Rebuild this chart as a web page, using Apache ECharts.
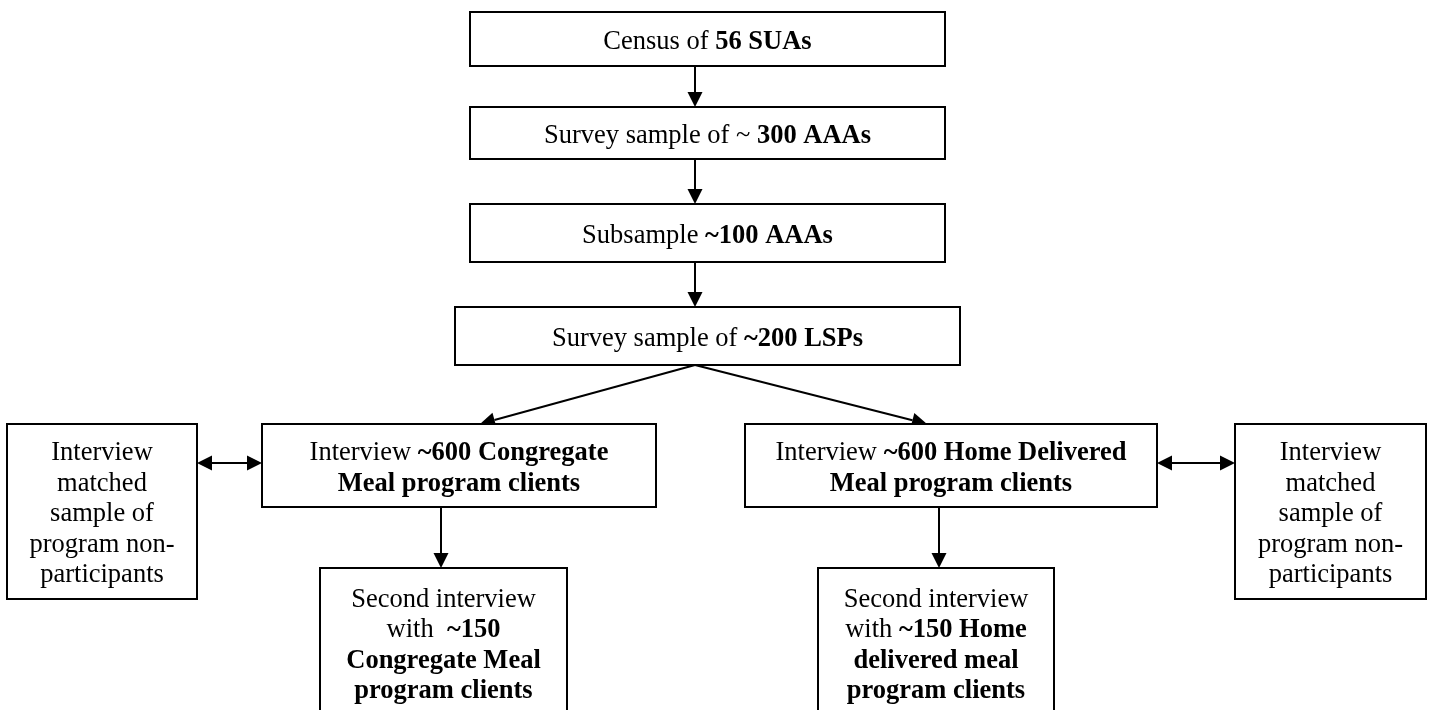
<!DOCTYPE html>
<html>
<head>
<meta charset="utf-8">
<script src="https://cdn.jsdelivr.net/npm/echarts@6/dist/echarts.min.js"></script>
<style>
  html, body { margin: 0; padding: 0; background: #fff; }
  #chart { width: 1429px; height: 710px; }
</style>
</head>
<body>
<div id="chart"></div>
<script>
// box texts, one entry per line, {b|...} marks bold runs
const nodeText = [
    ['Census of {b|56 SUAs}'],
    ['Survey sample of ~ {b|300 AAAs}'],
    ['Subsample {b|~100 AAAs}'],
    ['Survey sample of {b|~200 LSPs}'],
    ['Interview {b|~600 Congregate}', '{b|Meal program clients}'],
    ['Interview {b|~600 Home Delivered}', '{b|Meal program clients}'],
    ['Interview', 'matched', 'sample of', 'program non-', 'participants'],
    ['Interview', 'matched', 'sample of', 'program non-', 'participants'],
    ['Second interview', 'with  {b|~150}', '{b|Congregate Meal}', '{b|program clients}'],
    ['Second interview', 'with {b|~150 Home}', '{b|delivered meal}', '{b|program clients}'],
];

// layout of the boxes: [left, top, right, bottom] on the page axes
const nodeBox = [
    [470, 12, 945, 66],
    [470, 107, 945, 159],
    [470, 204, 945, 262],
    [455, 307, 960, 365],
    [262, 424, 656, 507],
    [745, 424, 1157, 507],
    [7, 424, 197, 599],
    [1235, 424, 1426, 599],
    [320, 568, 567, 717],
    [818, 568, 1054, 717],
];

// arrows: [x1, y1, x2, y2, heads at both ends]
const arrows = [
    [695, 66, 695, 107, 0],
    [695, 159, 695, 204, 0],
    [695, 262, 695, 307, 0],
    [695, 365, 480, 424, 0],
    [695, 365, 927, 424, 0],
    [441, 507, 441, 568, 0],
    [939, 507, 939, 568, 0],
    [197, 463, 262, 463, 1],
    [1157, 463, 1235, 463, 1],
];

const FONT = '"Liberation Serif", "Times New Roman", serif';
const FONT_SIZE = 26.5;
const LINE_HEIGHT = 30.5;
const TEXT_NUDGE = 3; // serif glyphs sit a little low in the reference
const HEAD_LEN = 15;
const HEAD_HALF = 7.5;

function renderBox(params, api) {
    const i = api.value(4);
    const p0 = api.coord([api.value(0), api.value(1)]);
    const p1 = api.coord([api.value(2), api.value(3)]);

    return {
        type: 'group',
        children: [
            {
                type: 'rect',
                shape: { x: p0[0], y: p0[1], width: p1[0] - p0[0], height: p1[1] - p0[1] },
                style: { fill: '#fff', stroke: '#000', lineWidth: 2 },
            },
            {
                type: 'text',
                style: {
                    text: nodeText[i].join('\n'),
                    x: (p0[0] + p1[0]) / 2,
                    y: (p0[1] + p1[1]) / 2 + TEXT_NUDGE,
                    align: 'center',
                    verticalAlign: 'middle',
                    fontSize: FONT_SIZE,
                    fontFamily: FONT,
                    lineHeight: LINE_HEIGHT,
                    fill: '#000',
                    rich: {
                        b: {
                            fontSize: FONT_SIZE,
                            fontFamily: FONT,
                            fontWeight: 'bold',
                            lineHeight: LINE_HEIGHT,
                            fill: '#000',
                        },
                    },
                },
            },
        ],
    };
}

function arrowHead(tip, ux, uy) {
    const bx = tip[0] - ux * HEAD_LEN;
    const by = tip[1] - uy * HEAD_LEN;
    return {
        type: 'polygon',
        shape: {
            points: [
                tip,
                [bx - uy * HEAD_HALF, by + ux * HEAD_HALF],
                [bx + uy * HEAD_HALF, by - ux * HEAD_HALF],
            ],
        },
        style: { fill: '#000' },
    };
}

function renderArrow(params, api) {
    const a = api.coord([api.value(0), api.value(1)]);
    const b = api.coord([api.value(2), api.value(3)]);
    const both = api.value(4) === 1;
    const len = Math.hypot(b[0] - a[0], b[1] - a[1]);
    const ux = (b[0] - a[0]) / len;
    const uy = (b[1] - a[1]) / len;

    const start = both ? [a[0] + ux * HEAD_LEN, a[1] + uy * HEAD_LEN] : a;
    const end = [b[0] - ux * HEAD_LEN, b[1] - uy * HEAD_LEN];

    const children = [
        {
            type: 'line',
            shape: { x1: start[0], y1: start[1], x2: end[0], y2: end[1] },
            style: { stroke: '#000', lineWidth: 2 },
        },
        arrowHead(b, ux, uy),
    ];
    if (both) {
        children.push(arrowHead(a, -ux, -uy));
    }

    return { type: 'group', children };
}

const chart = echarts.init(document.getElementById('chart'));

chart.setOption({
    animation: false,
    backgroundColor: '#fff',
    grid: { left: 0, right: 0, top: 0, bottom: 0 },
    xAxis: { type: 'value', min: 0, max: 1429, show: false },
    yAxis: { type: 'value', min: 0, max: 710, inverse: true, show: false },
    series: [
        {
            type: 'custom',
            name: 'arrows',
            renderItem: renderArrow,
            encode: { x: [0, 2], y: [1, 3] },
            data: arrows,
            clip: false,
            silent: true,
        },
        {
            type: 'custom',
            name: 'boxes',
            renderItem: renderBox,
            encode: { x: [0, 2], y: [1, 3] },
            data: nodeBox.map((box, i) => [...box, i]),
            clip: false,
            silent: true,
        },
    ],
});
</script>
</body>
</html>
